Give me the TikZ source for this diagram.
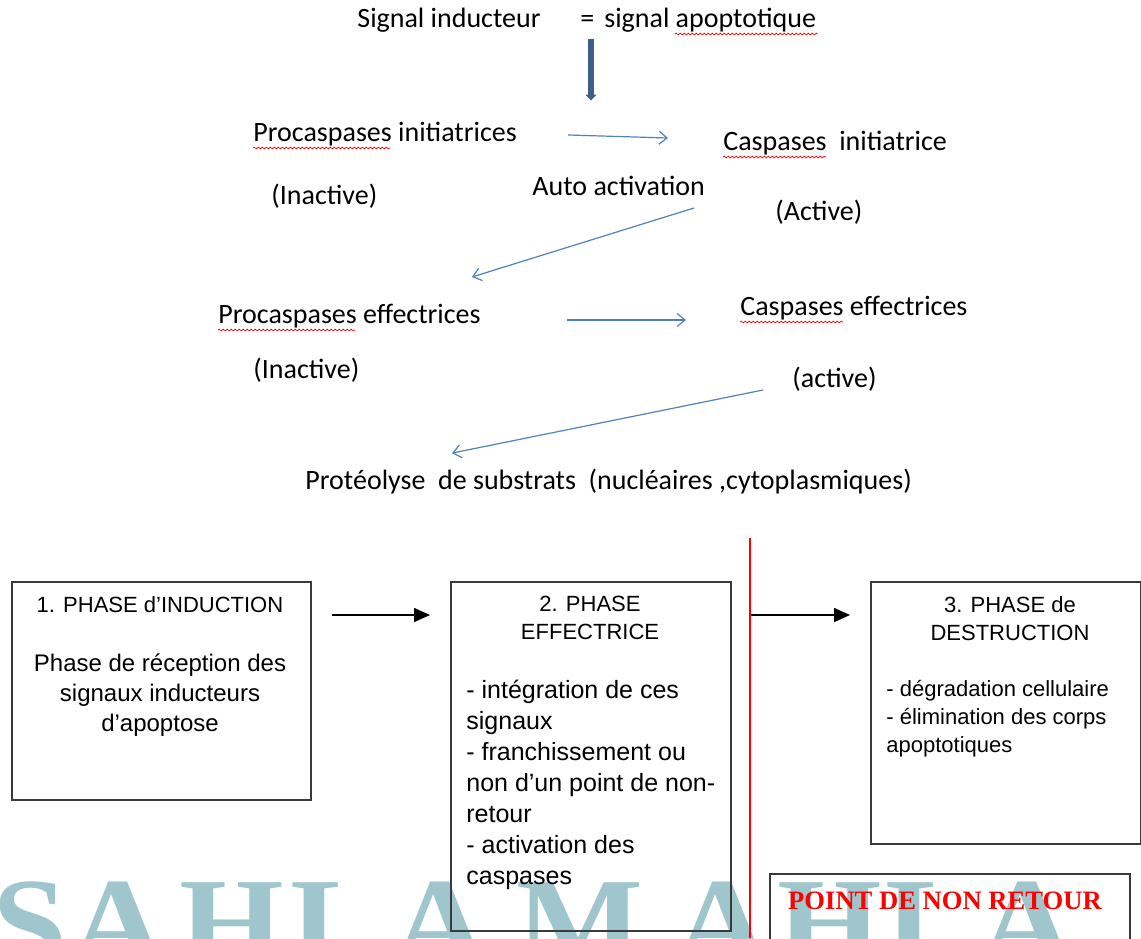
\documentclass[tikz,border=0pt]{standalone}
\usepackage{graphicx}
\usepackage{fontspec}
\setmainfont{Carlito}
\newfontfamily\arialfont{Liberation Sans}
\newfontfamily\timesfont{Liberation Serif}
\usetikzlibrary{arrows.meta,positioning,decorations.pathmorphing}

\definecolor{flowblue}{HTML}{4F81BD}
\definecolor{darkflow}{HTML}{3B5E8C}
\definecolor{markteal}{HTML}{A0C6CD}
\definecolor{boxgray}{HTML}{3A3A3A}

\tikzset{
  lbl/.style={inner sep=0pt, anchor=west, font=\fontsize{14}{16}\selectfont},
  flow/.style={draw=flowblue, line width=0.6pt, -{Straight Barb[length=4pt,width=6.5pt]}},
  spell/.style={draw=red, line width=0.35pt, decorate, decoration={snake, amplitude=0.45pt, segment length=2pt}},
  phasebox/.style={draw=boxgray, line width=0.8pt, anchor=north west, inner sep=0pt},
  phasearrow/.style={line width=0.8pt, -{Triangle[length=8pt,width=7pt]}},
  boxtitle/.style={inner sep=0pt, anchor=north, align=center, font=\arialfont\fontsize{11}{14}\selectfont},
  boxbody/.style={inner sep=0pt, font=\arialfont\fontsize{12}{15}\selectfont}
}

\begin{document}
\begin{tikzpicture}[x=0.5pt, y=-0.5pt]
 \useasboundingbox (0,0) rectangle (1141,938);

% watermark, behind everything
\begin{scope}
 \clip (0,0) rectangle (1141,938);
 \foreach \ch/\cx in {S/30,A/118,H/232,L/335,A/440,M/580,A/722,H/830,L/930,A/1027}
  \node[text=markteal, inner sep=0pt, anchor=base,
        font=\timesfont\bfseries\fontsize{64}{64}\selectfont] (wm-\cx) at (\cx,966) {\scalebox{1.05}[1]{\ch}};
\end{scope}

% cascade des caspases
 \node[lbl] (sig) at (357,20) {Signal inducteur};
 \node[lbl] (eqsig) at (580,20) {=\hspace{5pt}signal apoptotique};

 \node[lbl] (procini) at (253,134) {Procaspases initiatrices};
 \node[lbl] (inact1) at (271,196) {(Inactive)};
 \node[lbl] (autoact) at (532,186) {Auto activation};
 \node[lbl] (casini) at (723,143) {Caspases~ initiatrice};
 \node[lbl] (act1) at (775,212) {(Active)};

 \node[lbl] (proceff) at (218,316) {Procaspases effectrices};
 \node[lbl] (inact2) at (253,370) {(Inactive)};
 \node[lbl] (caseff) at (740,308) {Caspases effectrices};
 \node[lbl] (act2) at (792,379) {(active)};

 \node[lbl] (prot) at (305,482) {Protéolyse~ de substrats~ (nucléaires ,cytoplasmiques)};

 \draw[darkflow, line width=2.6pt, -{Triangle[length=3pt,width=5.5pt]}]
   ([shift={(11,6)}]eqsig.south west) -- ([shift={(11,68)}]eqsig.south west);
 \draw[flow] ([shift={(51,1)}]procini.east) -- ([shift={(-55,-5)}]casini.west);
 \draw[flow] ([shift={(-81,-4)}]act1.west) -- ([shift={(-9,-39)}]proceff.east);
 \draw[flow] ([shift={(86,4)}]proceff.east) -- ([shift={(-54,12)}]caseff.west);
 \draw[flow] ([shift={(-29,11)}]act2.west) -- ([shift={(147,-16)}]prot.north west);

% spell check marks
 \draw[spell] (675,34) -- (818,34);
 \draw[spell] (253,148) -- (390,148);
 \draw[spell] (723,157) -- (826,157);
 \draw[spell] (218,330) -- (355,330);
 \draw[spell] (740,322) -- (843,322);

% les trois phases
 \node[phasebox, minimum width=149.5pt, minimum height=109pt] (induc) at (11,581) {};
 \node[phasebox, minimum width=140pt, minimum height=174.5pt] (effec) at (450,581) {};
 \node[phasebox, minimum width=135pt, minimum height=131pt] (destr) at (870,581) {};
 \node[phasebox, minimum width=180pt, minimum height=45pt] (nonret) at (769,873) {};

 \node[boxtitle] (indtitle) at (160,596) {1. PHASE d’INDUCTION};
 \node[boxbody, anchor=north, align=center] (indbody) at (160,653)
   {Phase de réception des\\signaux inducteurs\\d’apoptose};

 \node[boxtitle] (efftitle) at (590,596) {2. PHASE\\EFFECTRICE};
 \node[boxbody, anchor=north west, align=left, font=\arialfont\fontsize{12.5}{15.5}\selectfont] (effbody) at (466,680)
   {- intégration de ces\\signaux\\- franchissement ou\\non d’un point de non-\\retour\\- activation des\\caspases};

 \node[boxtitle] (destitle) at (1010,596) {3. PHASE de\\DESTRUCTION};
 \node[boxbody, anchor=north west, align=left, font=\arialfont\fontsize{11}{14}\selectfont] (desbody) at (886,680)
   {- dégradation cellulaire\\- élimination des corps\\apoptotiques};

 \node[inner sep=0pt, anchor=base, text=red, font=\timesfont\bfseries\fontsize{13.3}{15}\selectfont] (nrtext) at (945,909) {POINT DE NON RETOUR};

 \coordinate (redtop) at (750,538);
 \coordinate (redbot) at (750,938);
 \draw[red, line width=0.6pt] (redtop) -- (redbot); % point de non retour

 \draw[phasearrow] ([shift={(20,34)}]induc.north east) -- ([shift={(-20,34)}]effec.north west);
 \draw[phasearrow] ([shift={(1,77)}]redtop) -- ([shift={(-20,34)}]destr.north west);

\end{tikzpicture}
\end{document}
